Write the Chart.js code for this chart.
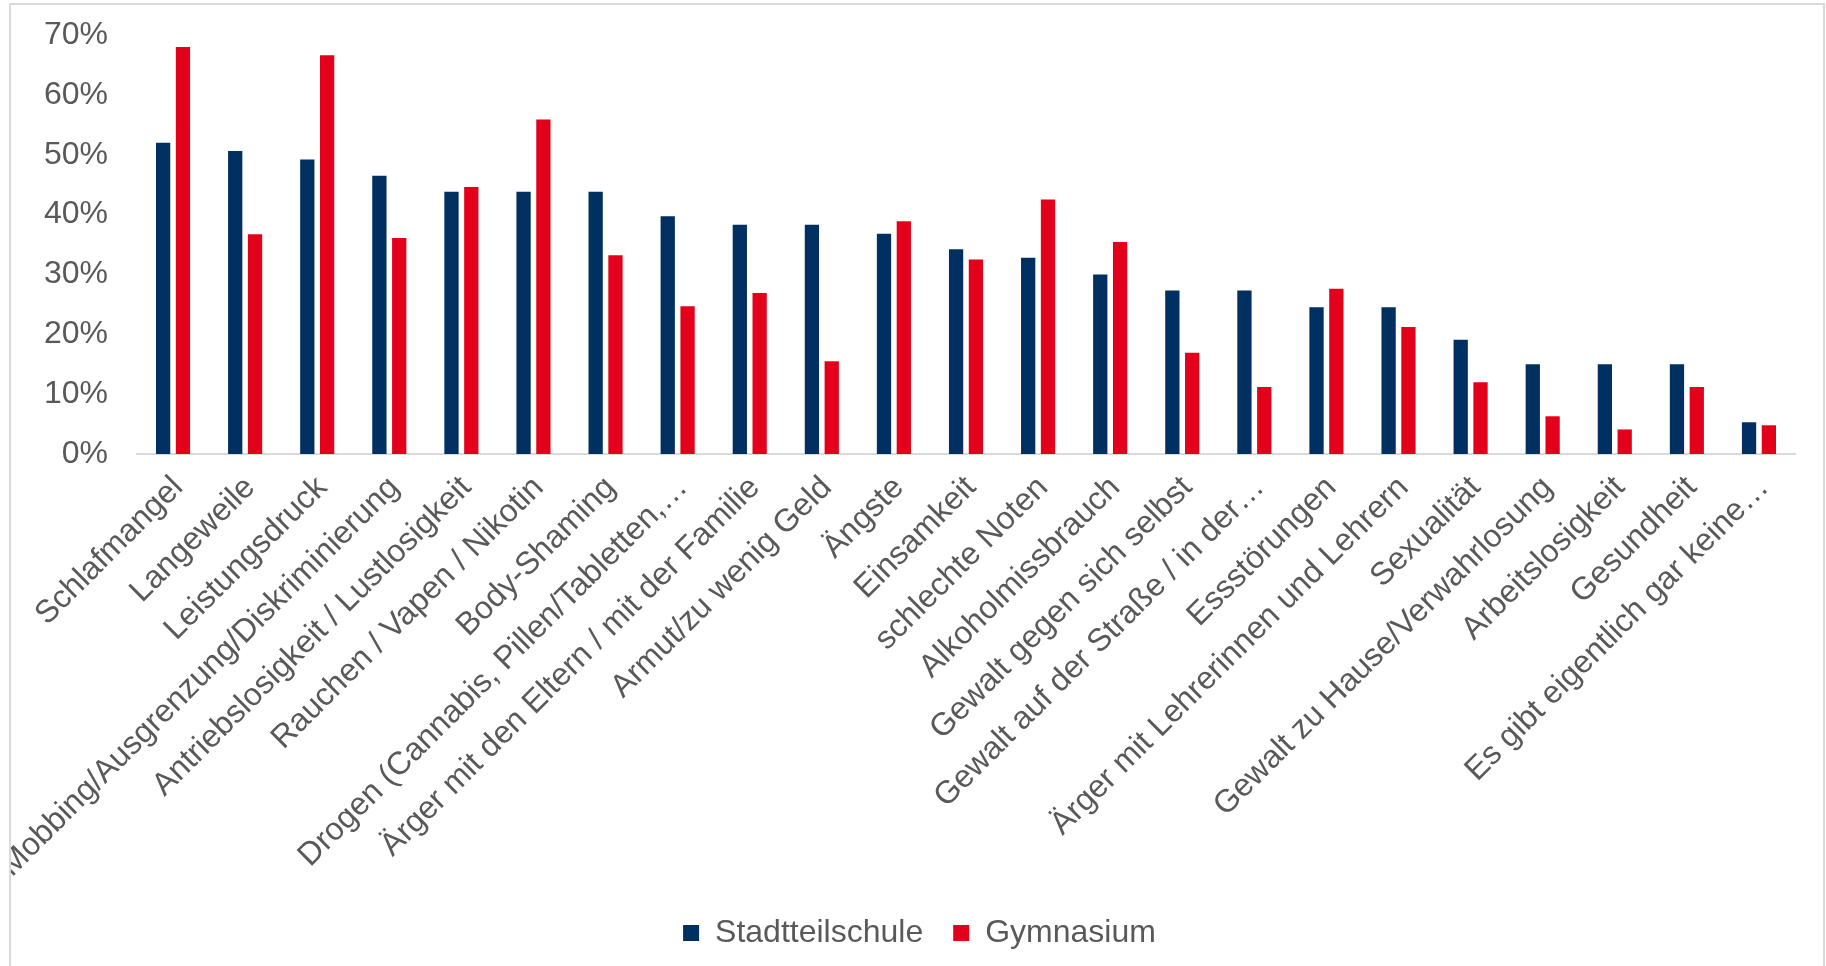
<!DOCTYPE html>
<html>
<head>
<meta charset="utf-8">
<script src="https://cdn.jsdelivr.net/npm/chart.js@4"></script>
<style>
html, body { margin: 0; padding: 0; background: #ffffff; }
#frame {
  position: absolute; left: 9px; top: 3px;
  width: 1812px; height: 963px;
  border: 2px solid #d9d9d9; border-bottom: none;
  overflow: hidden; background: #ffffff;
}
canvas { display: block; }
</style>
</head>
<body>
<div id="frame"><canvas id="chart" width="1812" height="954"></canvas></div>
<script>
const categories = [
  "Schlafmangel",
  "Langeweile",
  "Leistungsdruck",
  "Mobbing/Ausgrenzung/Diskriminierung",
  "Antriebslosigkeit / Lustlosigkeit",
  "Rauchen / Vapen / Nikotin",
  "Body-Shaming",
  "Drogen (Cannabis, Pillen/Tabletten,…",
  "Ärger mit den Eltern / mit der Familie",
  "Armut/zu wenig Geld",
  "Ängste",
  "Einsamkeit",
  "schlechte Noten",
  "Alkoholmissbrauch",
  "Gewalt gegen sich selbst",
  "Gewalt auf der Straße / in der…",
  "Essstörungen",
  "Ärger mit Lehrerinnen und Lehrern",
  "Sexualität",
  "Gewalt zu Hause/Verwahrlosung",
  "Arbeitslosigkeit",
  "Gesundheit",
  "Es gibt eigentlich gar keine…"
];

const stadtteilschule = [52.0, 50.6, 49.2, 46.5, 43.8, 43.8, 43.8, 39.7, 38.3, 38.3, 36.8, 34.2, 32.8, 30.0, 27.3, 27.3, 24.5, 24.5, 19.1, 15.0, 15.0, 15.0, 5.3];
const gymnasium       = [68.0, 36.7, 66.6, 36.1, 44.6, 55.9, 33.2, 24.7, 26.9, 15.5, 38.9, 32.5, 42.5, 35.4, 16.9, 11.2, 27.6, 21.2, 12.0, 6.3, 4.1, 11.2, 4.8];

const seriesNames = ["Stadtteilschule", "Gymnasium"];
const yTicks = [0, 10, 20, 30, 40, 50, 60, 70];

const NAVY = '#002f62';
const RED = '#e2001a';
const TEXT = '#595959';
const AXIS = '#d9d9d9';

Chart.defaults.font.family = '"Liberation Sans", Arial, sans-serif';
Chart.defaults.font.size = 32;
Chart.defaults.color = TEXT;

new Chart(document.getElementById('chart'), {
  type: 'bar',
  data: {
    labels: categories,
    datasets: [
      { label: seriesNames[0], data: stadtteilschule, backgroundColor: NAVY, borderWidth: 0,
        categoryPercentage: 0.55, barPercentage: 0.72 },
      { label: seriesNames[1], data: gymnasium, backgroundColor: RED, borderWidth: 0,
        categoryPercentage: 0.55, barPercentage: 0.72 }
    ]
  },
  options: {
    responsive: false,
    animation: false,
    layout: { padding: { top: 30, left: 33, right: 28, bottom: 0 } },
    plugins: {
      title: { display: false },
      tooltip: { enabled: false },
      legend: {
        position: 'bottom',
        labels: { boxWidth: 16, boxHeight: 16, padding: 30, color: TEXT, font: { size: 32 } }
      }
    },
    scales: {
      x: {
        grid: { display: false, drawTicks: false },
        border: { display: true, color: AXIS, width: 2 },
        ticks: {
          autoSkip: false, minRotation: 45, maxRotation: 45, padding: 15, labelOffset: 5,
          color: TEXT, font: { size: 32 }
        },
        afterFit: (s) => { s.height = 433; }
      },
      y: {
        min: 0, max: 70,
        grid: { display: false, drawTicks: false },
        border: { display: false },
        afterBuildTicks: (s) => { s.ticks = yTicks.map(v => ({ value: v })); },
        ticks: {
          padding: 29, color: TEXT, font: { size: 32 },
          callback: (v) => v + '%'
        },
        afterFit: (s) => { s.width = 93; s.paddingTop = 0; s.paddingBottom = 0; }
      }
    }
  }
});
</script>
</body>
</html>
